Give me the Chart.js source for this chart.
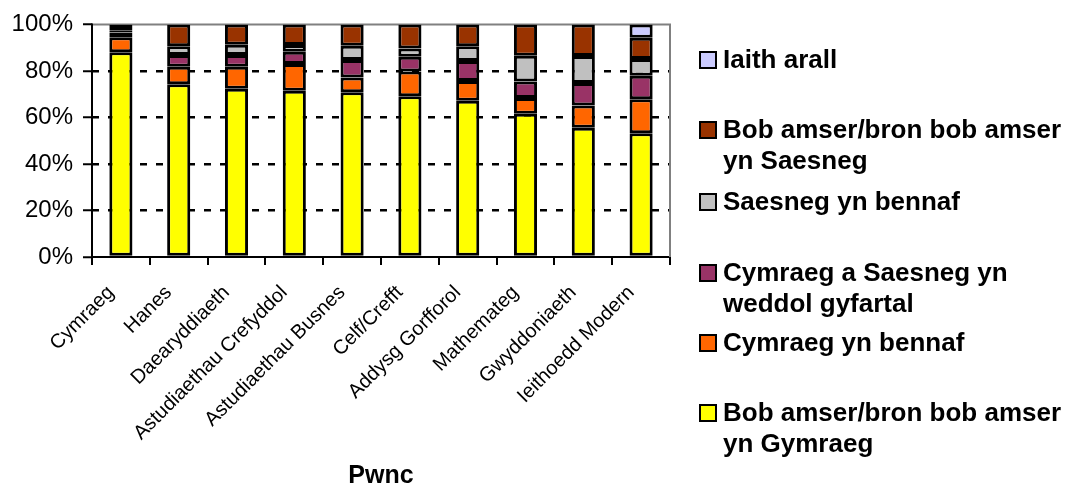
<!DOCTYPE html>
<html>
<head>
<meta charset="utf-8">
<script src="https://cdn.jsdelivr.net/npm/chart.js@4/dist/chart.umd.min.js"></script>
<style>
  body { margin: 0; background: #fff; }
  #wrap { position: relative; width: 1067px; height: 492px; }
  #legend { position: absolute; left: 0; top: 0; font-family: Arial, "Liberation Sans", sans-serif; font-weight: bold; font-size: 26px; color: #000; }
  .item { position: absolute; left: 699px; width: 368px; }
  .box { position: absolute; left: 0; top: 7px; width: 14px; height: 14px; border: 2px solid #000; }
  .txt { position: absolute; left: 24px; top: 0; width: 343px; line-height: 31px; }
</style>
</head>
<body>
<div id="wrap">
  <canvas id="chart" width="1067" height="492"></canvas>
  <div id="legend"></div>
</div>
<script>
// Pynciau (categori)
const pynciau = ["Cymraeg", "Hanes", "Daearyddiaeth", "Astudiaethau Crefyddol", "Astudiaethau Busnes",
  "Celf/Crefft", "Addysg Gorfforol", "Mathemateg", "Gwyddoniaeth", "Ieithoedd Modern"];

// Canrannau ar gyfer pob cyfres (o'r gwaelod i fyny)
const bobAmserCymraeg = [88.0, 74.3, 72.3, 71.5, 70.8, 69.1, 67.2, 61.6, 55.6, 53.2];
const cymraegBennaf   = [6.5, 7.5, 9.5, 11.5, 6.4, 10.6, 8.5, 6.8, 9.5, 14.6];
const gyfartal        = [2.0, 5.0, 5.0, 5.2, 7.5, 6.4, 8.6, 7.1, 9.7, 10.1];
const saesnegBennaf   = [1.0, 3.8, 4.4, 2.9, 6.1, 3.5, 6.3, 11.0, 11.6, 7.2];
const bobAmserSaesneg = [2.5, 9.4, 8.8, 8.9, 9.2, 10.4, 9.4, 13.5, 13.6, 9.2];
const iaithArall      = [null, null, null, null, null, null, null, null, null, 5.7];

const cyfresi = [
  { label: "Bob amser/bron bob amser yn Gymraeg", data: bobAmserCymraeg, color: "#FFFF00" },
  { label: "Cymraeg yn bennaf", data: cymraegBennaf, color: "#FF6600" },
  { label: "Cymraeg a Saesneg yn weddol gyfartal", data: gyfartal, color: "#993366" },
  { label: "Saesneg yn bennaf", data: saesnegBennaf, color: "#C0C0C0" },
  { label: "Bob amser/bron bob amser yn Saesneg", data: bobAmserSaesneg, color: "#993300" },
  { label: "Iaith arall", data: iaithArall, color: "#CCCCFF" },
];

// safle fertigol pob eitem yn yr allwedd (o'r brig i lawr)
const legendTops = [44, 114, 186, 257, 327, 397];

// echel chwith ddu, ffrâm lwyd ar frig ac ar y dde
const fframPlugin = {
  id: "ffram",
  beforeDatasetsDraw(chart) {
    const { ctx, chartArea: a } = chart;
    ctx.save();
    ctx.strokeStyle = "#808080";
    ctx.lineWidth = 2;
    ctx.beginPath();
    ctx.moveTo(a.left, a.top);
    ctx.lineTo(a.right, a.top);
    ctx.lineTo(a.right, a.bottom);
    ctx.stroke();
    ctx.strokeStyle = "#000";
    ctx.beginPath();
    ctx.moveTo(a.left, a.top - 1);
    ctx.lineTo(a.left, a.bottom);
    ctx.stroke();
    ctx.restore();
  },
};

const chart = new Chart(document.getElementById("chart").getContext("2d"), {
  type: "bar",
  data: {
    labels: pynciau,
    datasets: cyfresi.map((s) => ({
      label: s.label,
      data: s.data,
      backgroundColor: s.color,
      borderColor: "#000",
      borderWidth: 3,
      borderSkipped: false,
      barPercentage: 0.4,
      categoryPercentage: 1,
    })),
  },
  options: {
    responsive: false,
    animation: false,
    layout: { padding: { top: 22, right: 397, left: 0, bottom: 0 } },
    plugins: {
      legend: { display: false },
      tooltip: { enabled: false },
    },
    scales: {
      x: {
        stacked: true,
        afterFit: (s) => { s.height = 235; },
        grid: {
          offset: true,
          drawOnChartArea: false,
          drawTicks: true,
          tickLength: 8,
          color: "#000",
          lineWidth: 2,
        },
        border: { display: true, color: "#000", width: 2 },
        ticks: {
          minRotation: 45,
          maxRotation: 45,
          autoSkip: false,
          color: "#000",
          padding: 16,
          labelOffset: -10,
          font: { family: "Arial, 'Liberation Sans'", size: 20 },
        },
        title: {
          display: true,
          text: "Pwnc",
          color: "#000",
          padding: { top: 0, bottom: 1 },
          font: { family: "Arial, 'Liberation Sans'", size: 25, weight: "bold" },
        },
      },
      y: {
        stacked: true,
        min: 0,
        max: 100,
        afterFit: (s) => { s.width = 92; },
        grid: {
          color: (c) => (c.index === 0 || c.index === 5 ? "rgba(0,0,0,0)" : "#000"),
          lineWidth: 2.5,
          tickColor: "#000",
          tickBorderDash: [],
          tickLength: 9,
          tickWidth: 2,
        },
        border: { display: false, dash: [7, 9] },
        ticks: {
          stepSize: 20,
          color: "#000",
          padding: 10,
          callback: (v) => v + "%",
          font: { family: "Arial, 'Liberation Sans'", size: 24 },
        },
      },
    },
  },
  plugins: [fframPlugin],
});

// allwedd HTML, yn y drefn o'r brig i lawr
const legend = document.getElementById("legend");
chart.data.datasets.slice().reverse().forEach((ds, i) => {
  const item = document.createElement("div");
  item.className = "item";
  item.style.top = legendTops[i] + "px";
  const box = document.createElement("div");
  box.className = "box";
  box.style.background = ds.backgroundColor;
  const txt = document.createElement("div");
  txt.className = "txt";
  txt.textContent = ds.label;
  item.appendChild(box);
  item.appendChild(txt);
  legend.appendChild(item);
});
</script>
</body>
</html>
